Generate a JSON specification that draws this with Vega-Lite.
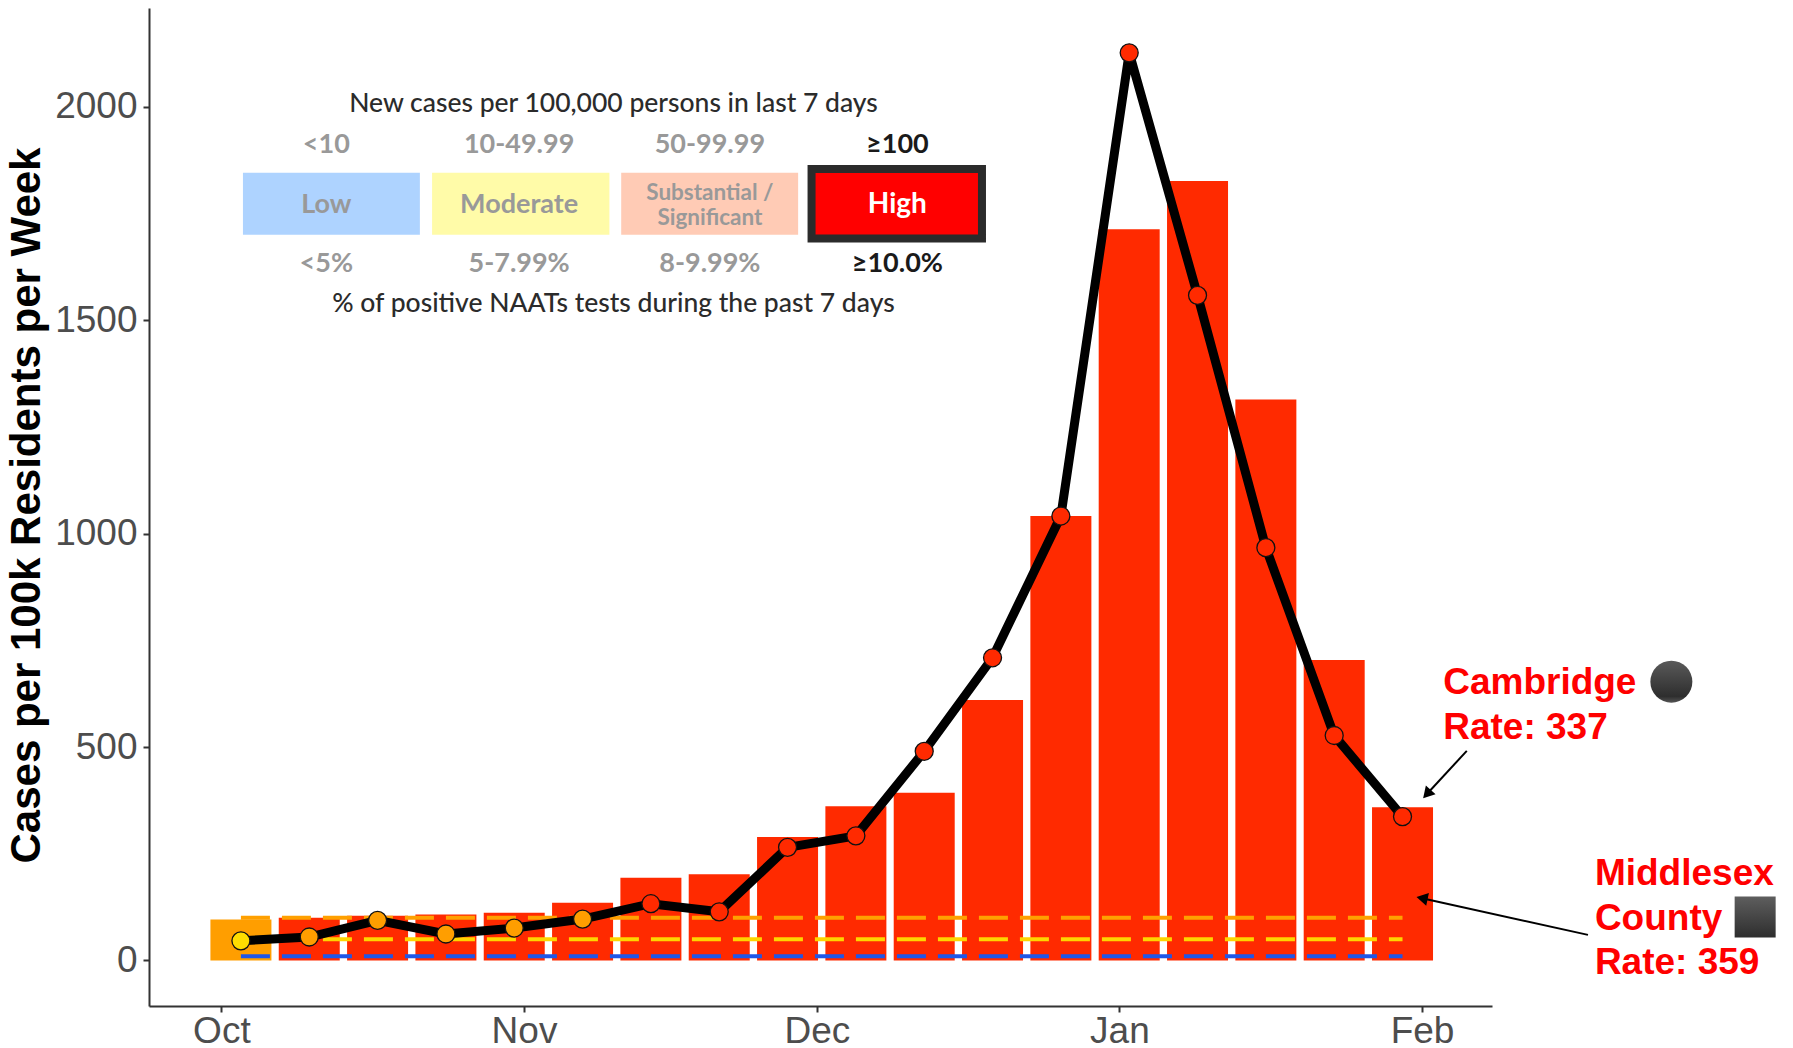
{
"$schema":"https://vega.github.io/schema/vega-lite/v6.json",
"width":1343,"height":998,
"autosize":{"type":"none"},
"padding":{"left":149,"top":8,"right":301,"bottom":42},
"background":"white",
"config":{"view":{"stroke":null},"axis":{"grid":false}},
"datasets":{
"weeks":[
{"date":"2021-10-03T00:00:00Z","v":46,"rate":96,"bar":"Substantial","point":"Moderate"},
{"date":"2021-10-10T00:00:00Z","v":55,"rate":100,"bar":"High","point":"Substantial"},
{"date":"2021-10-17T00:00:00Z","v":94,"rate":105,"bar":"High","point":"Substantial"},
{"date":"2021-10-24T00:00:00Z","v":62,"rate":108,"bar":"High","point":"Substantial"},
{"date":"2021-10-31T00:00:00Z","v":76,"rate":112,"bar":"High","point":"Substantial"},
{"date":"2021-11-07T00:00:00Z","v":97,"rate":135,"bar":"High","point":"Substantial"},
{"date":"2021-11-14T00:00:00Z","v":133,"rate":194,"bar":"High","point":"High"},
{"date":"2021-11-21T00:00:00Z","v":114,"rate":202,"bar":"High","point":"High"},
{"date":"2021-11-28T00:00:00Z","v":265,"rate":289,"bar":"High","point":"High"},
{"date":"2021-12-05T00:00:00Z","v":292,"rate":361,"bar":"High","point":"High"},
{"date":"2021-12-12T00:00:00Z","v":490,"rate":393,"bar":"High","point":"High"},
{"date":"2021-12-19T00:00:00Z","v":709,"rate":610,"bar":"High","point":"High"},
{"date":"2021-12-26T00:00:00Z","v":1041,"rate":1041,"bar":"High","point":"High"},
{"date":"2022-01-02T00:00:00Z","v":2126,"rate":1713,"bar":"High","point":"High"},
{"date":"2022-01-09T00:00:00Z","v":1558,"rate":1826,"bar":"High","point":"High"},
{"date":"2022-01-16T00:00:00Z","v":967,"rate":1314,"bar":"High","point":"High"},
{"date":"2022-01-23T00:00:00Z","v":527,"rate":704,"bar":"High","point":"High"},
{"date":"2022-01-30T00:00:00Z","v":337,"rate":359,"bar":"High","point":"High"}
],
"thresholds":[
{"date":"2021-10-03T00:00:00Z","v":100,"level":"Substantial"},
{"date":"2022-01-30T00:00:00Z","v":100,"level":"Substantial"},
{"date":"2021-10-03T00:00:00Z","v":50,"level":"Moderate"},
{"date":"2022-01-30T00:00:00Z","v":50,"level":"Moderate"},
{"date":"2021-10-03T00:00:00Z","v":10,"level":"Low"},
{"date":"2022-01-30T00:00:00Z","v":10,"level":"Low"}
],
"boxes":[
{"date":"2021-10-03T05:00:00Z","date2":"2021-10-21T08:00:00Z","v":1845,"v2":1700,"level":"Low"},
{"date":"2021-10-22T14:00:00Z","date2":"2021-11-09T18:00:00Z","v":1845,"v2":1700,"level":"Moderate"},
{"date":"2021-11-10T23:00:00Z","date2":"2021-11-29T02:00:00Z","v":1845,"v2":1700,"level":"Substantial"}
],
"highbox":[{"date":"2021-11-30T11:00:00Z","date2":"2021-12-17T22:00:00Z","v":1854,"v2":1691}],
"headings":[
{"date":"2021-11-10T04:00:00Z","v":2006,"label":"New cases per 100,000 persons in last 7 days"},
{"date":"2021-11-10T04:00:00Z","v":1537,"label":"% of positive NAATs tests during the past 7 days"}
],
"greyText":[
{"date":"2021-10-11T18:00:00Z","v":1910,"label":"<10"},
{"date":"2021-10-31T12:00:00Z","v":1910,"label":"10-49.99"},
{"date":"2021-11-20T01:00:00Z","v":1910,"label":"50-99.99"},
{"date":"2021-10-11T18:00:00Z","v":1631,"label":"<5%"},
{"date":"2021-10-31T12:00:00Z","v":1631,"label":"5-7.99%"},
{"date":"2021-11-20T01:00:00Z","v":1631,"label":"8-9.99%"},
{"date":"2021-10-11T18:00:00Z","v":1770,"label":"Low"},
{"date":"2021-10-31T12:00:00Z","v":1770,"label":"Moderate"}
],
"greySmall":[
{"date":"2021-11-20T01:00:00Z","v":1798,"label":"Substantial /"},
{"date":"2021-11-20T01:00:00Z","v":1739,"label":"Significant"}
],
"blackText":[
{"date":"2021-12-09T06:00:00Z","v":1910,"label":"≥100"},
{"date":"2021-12-09T06:00:00Z","v":1631,"label":"≥10.0%"}
],
"whiteText":[{"date":"2021-12-09T06:00:00Z","v":1770,"label":"High"}],
"notes":[
{"date":"2022-02-03T04:00:00Z","v":649,"label":"Cambridge"},
{"date":"2022-02-03T04:00:00Z","v":545,"label":"Rate: 337"},
{"date":"2022-02-18T17:00:00Z","v":203,"label":"Middlesex"},
{"date":"2022-02-18T17:00:00Z","v":98,"label":"County"},
{"date":"2022-02-18T17:00:00Z","v":-5,"label":"Rate: 359"}
],
"arrows":[
{"date":"2022-02-05T14:00:00Z","date2":"2022-02-01T12:00:00Z","v":491,"v2":390},
{"date":"2022-02-18T00:00:00Z","date2":"2022-02-01T00:00:00Z","v":60,"v2":146}
],
"heads":[
{"date":"2022-02-01T12:00:00Z","v":390,"heading":222},
{"date":"2022-02-01T00:00:00Z","v":146,"heading":282}
],
"circleKey":[{"date":"2022-02-26T13:00:00Z","v":653}],
"squareKey":[{"date":"2022-03-07T03:00:00Z","v":102}]
},
"encoding":{
"x":{"field":"date","type":"temporal","title":null,
"scale":{"type":"utc","domain":["2021-09-23T14:00:00Z","2022-02-08T04:00:00Z"],"nice":false,"padding":0},
"axis":{"format":"%b","tickCount":"month","labelFontSize":37,"labelFont":"Liberation Sans","labelColor":"#4d4d4d","domainColor":"#333333","domainWidth":2,"tickColor":"#333333","tickWidth":2,"tickSize":6,"labelPadding":1,"labelFlush":false,"labelOverlap":false}},
"y":{"field":"v","type":"quantitative",
"scale":{"domain":[-106.6,2231],"nice":false,"zero":false},
"axis":{"title":"Cases per 100k Residents per Week","format":"d","values":[0,500,1000,1500,2000],"labelFontSize":37,"labelFont":"Liberation Sans","labelColor":"#4d4d4d","domainColor":"#333333","domainWidth":2,"tickColor":"#333333","tickWidth":2,"tickSize":6,"labelPadding":6,"titleFont":"Liberation Sans","titleFontSize":42,"titleFontWeight":"bold","titleColor":"#000000","titleX":-123,"titleY":497,"titleBaseline":"middle"}}
},
"resolve":{"scale":{"color":"independent"}},
"layer":[
{"data":{"name":"weeks"},"mark":{"type":"bar","size":61},
 "encoding":{"y":{"field":"rate","type":"quantitative"},"y2":{"datum":0},
 "color":{"field":"bar","type":"nominal","legend":null,"scale":{"domain":["Substantial","High"],"range":["#FF9E00","#FF2A00"]}}}},
{"data":{"name":"thresholds"},"mark":{"type":"line","strokeWidth":4,"strokeDash":[29,12],"strokeCap":"butt"},
 "encoding":{"color":{"field":"level","type":"nominal","legend":null,"scale":{"domain":["Low","Moderate","Substantial"],"range":["#1F57E8","#FFD500","#FFA000"]}}}},
{"data":{"name":"weeks"},"mark":{"type":"line","color":"#000000","strokeWidth":9,"strokeJoin":"miter"},"encoding":{}},
{"data":{"name":"weeks"},"mark":{"type":"point","filled":true,"size":324,"stroke":"#111111","strokeWidth":1.3,"opacity":1},
 "encoding":{"color":{"field":"point","type":"nominal","legend":null,"scale":{"domain":["Moderate","Substantial","High"],"range":["#FFDD00","#FF9E00","#FF2A00"]}}}},
{"data":{"name":"boxes"},"mark":{"type":"rect"},
 "encoding":{"x2":{"field":"date2"},"y2":{"field":"v2"},
 "color":{"field":"level","type":"nominal","legend":null,"scale":{"domain":["Low","Moderate","Substantial"],"range":["#AED3FF","#FFFBA8","#FFCBB5"]}}}},
{"data":{"name":"highbox"},"mark":{"type":"rect","fill":"#FF0000","stroke":"#2b2b2b","strokeWidth":8},
 "encoding":{"x2":{"field":"date2"},"y2":{"field":"v2"}}},
{"data":{"name":"headings"},"mark":{"type":"text","font":"Lato","fontSize":26.5,"fontWeight":500,"color":"#2b2b2b","baseline":"middle"},"encoding":{"text":{"field":"label"}}},
{"data":{"name":"greyText"},"mark":{"type":"text","font":"Lato","fontSize":27,"fontWeight":"bold","color":"#999999","baseline":"middle"},"encoding":{"text":{"field":"label"}}},
{"data":{"name":"greySmall"},"mark":{"type":"text","font":"Lato","fontSize":22.5,"fontWeight":"bold","color":"#999999","baseline":"middle"},"encoding":{"text":{"field":"label"}}},
{"data":{"name":"blackText"},"mark":{"type":"text","font":"Lato","fontSize":27,"fontWeight":"bold","color":"#1a1a1a","baseline":"middle"},"encoding":{"text":{"field":"label"}}},
{"data":{"name":"whiteText"},"mark":{"type":"text","font":"Lato","fontSize":28,"fontWeight":"bold","color":"#ffffff","baseline":"middle"},"encoding":{"text":{"field":"label"}}},
{"data":{"name":"notes"},"mark":{"type":"text","font":"Liberation Sans","fontSize":37,"fontWeight":"bold","color":"#FF0000","align":"left","baseline":"middle"},"encoding":{"text":{"field":"label"}}},
{"data":{"name":"arrows"},"mark":{"type":"rule","color":"#000000","strokeWidth":2},"encoding":{"x2":{"field":"date2"},"y2":{"field":"v2"}}},
{"data":{"name":"heads"},"mark":{"type":"point","shape":"triangle-up","filled":true,"color":"#000000","size":170,"opacity":1},"encoding":{"angle":{"field":"heading","type":"quantitative","scale":null}}},
{"data":{"name":"circleKey"},"mark":{"type":"point","shape":"circle","filled":true,"size":1764,"opacity":1,"color":{"gradient":"linear","x1":0,"y1":0,"x2":0,"y2":1,"stops":[{"offset":0,"color":"#5a5a5a"},{"offset":0.85,"color":"#2e2e2e"},{"offset":1,"color":"#555555"}]}},"encoding":{}},
{"data":{"name":"squareKey"},"mark":{"type":"point","shape":"square","filled":true,"size":1681,"opacity":1,"color":{"gradient":"linear","x1":0,"y1":0,"x2":0,"y2":1,"stops":[{"offset":0,"color":"#5e5e5e"},{"offset":1,"color":"#2e2e2e"}]}},"encoding":{}}
]
}
